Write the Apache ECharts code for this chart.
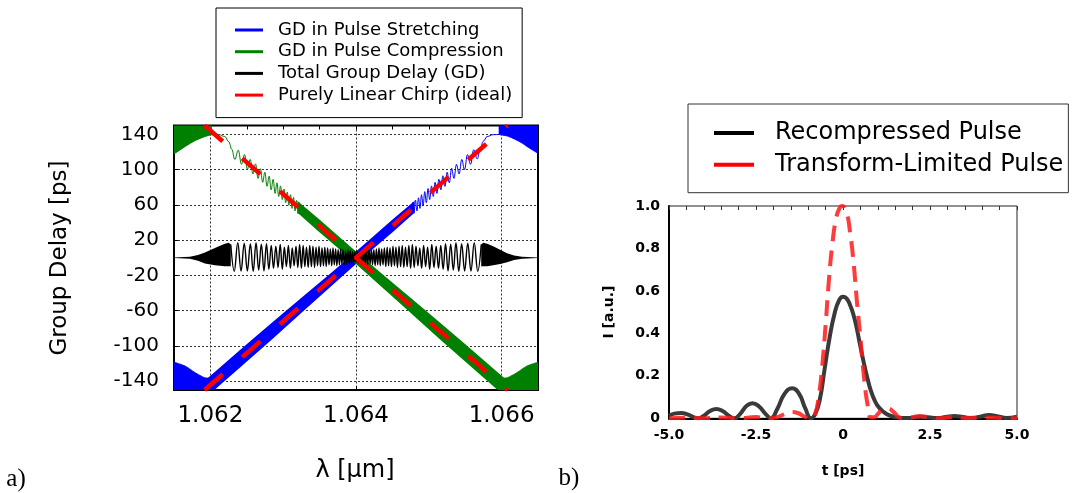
<!DOCTYPE html>
<html>
<head>
<meta charset="utf-8">
<style>
  html, body { margin: 0; padding: 0; background: #ffffff; }
  #chart { width: 1078px; height: 493px; }
</style>
<script src="https://cdn.jsdelivr.net/npm/echarts@6.0.0/dist/echarts.min.js"></script>
</head>
<body>
<div id="chart"></div>
<script>
// ---------- a) group delay versus wavelength ----------
const wavelengthTicks = [1.062, 1.064, 1.066];
const delayTicks = [-140, -100, -60, -20, 20, 60, 100, 140];

// stretcher GD: dense ripple envelope [lambda, upper, lower]
const stretchBand = [
  [1.061900, -141, -162], [1.062040, -131, -151], [1.062450, -101.5, -121.5],
  [1.062860, -72.5, -91.5], [1.063271, -44, -61], [1.063681, -15.5, -30.5],
  [1.064000, 7, -7], [1.064228, 23.5, 9.5], [1.064502, 43.5, 29], [1.064803, 64.5, 51]
];
// stretcher GD: resolved ripple towards long wavelengths
const stretchRipple = [
  [1.064776, 63], [1.064796, 50.5], [1.064817, 65.5], [1.064837, 53], [1.064858, 68],
  [1.064878, 56], [1.064900, 71.5], [1.064922, 59], [1.064944, 75], [1.064966, 62.5],
  [1.064989, 78.5], [1.065012, 66], [1.065037, 81.5], [1.065062, 69.5], [1.065086, 85.5],
  [1.065112, 73], [1.065138, 89], [1.065166, 77], [1.065193, 93], [1.065222, 81],
  [1.065252, 97], [1.065282, 85], [1.065313, 101.5], [1.065346, 90], [1.065380, 106],
  [1.065416, 95], [1.065453, 111.5], [1.065491, 100], [1.065531, 117], [1.065573, 106],
  [1.065617, 122.5], [1.065665, 112], [1.065706, 123], [1.065747, 132], [1.065802, 137.5],
  [1.065884, 139.6], [1.065960, 139.8]
];
// stretcher GD outside the chirped band (filled to the frame)
const stretchEdgeShort = [
  [1.061500, -118.5], [1.061655, -123], [1.061790, -130.4], [1.061890, -135],
  [1.061940, -136.5], [1.062000, -136.5]
];
const stretchEdgeLong = [
  [1.065960, 139.8], [1.066097, 137.6], [1.066275, 130.5], [1.066371, 125], [1.066500, 118.5]
];

// compressor GD
const compressBand = [
  [1.063197, 64.5, 51], [1.063498, 43.5, 29], [1.063772, 23.5, 9.5], [1.064000, 7, -7],
  [1.064319, -15.5, -30.5], [1.064729, -44, -61], [1.065140, -72.5, -91.5],
  [1.065550, -101.5, -121.5], [1.065960, -131, -151], [1.066100, -141, -162]
];
const compressRipple = [
  [1.062020, 139.5], [1.062116, 139.6], [1.062198, 137.5], [1.062253, 131.5], [1.062294, 123],
  [1.062335, 111.5], [1.062383, 122], [1.062427, 106], [1.062469, 117], [1.062509, 100.5],
  [1.062547, 111.5], [1.062584, 95], [1.062620, 106.5], [1.062654, 90], [1.062687, 101],
  [1.062718, 85.5], [1.062748, 97], [1.062778, 81], [1.062807, 92.5], [1.062834, 77],
  [1.062862, 89], [1.062888, 73], [1.062914, 85], [1.062938, 69.5], [1.062963, 81.5],
  [1.062988, 66], [1.063011, 78], [1.063034, 62.5], [1.063056, 74.5], [1.063078, 59.5],
  [1.063100, 71.5], [1.063122, 56], [1.063142, 68.5], [1.063163, 53], [1.063183, 65],
  [1.063204, 50], [1.063224, 62.5]
];
const compressEdgeShort = [
  [1.061500, 118], [1.061519, 118.8], [1.061655, 126.3], [1.061792, 133],
  [1.061929, 137.6], [1.062020, 139.5]
];
const compressEdgeLong = [
  [1.066000, -136.5], [1.066060, -136.5], [1.066110, -135], [1.066210, -130.4],
  [1.066345, -123], [1.066500, -118.5]
];

// total GD: spectral edges [lambda, upper, lower] and residual ripple
const totalEdgeShort = [
  [1.061500, 0.4, -0.4], [1.061719, 1, -1.2], [1.061829, 3, -3.5], [1.061925, 6, -6.5],
  [1.062062, 11, -8.5], [1.062198, 16, -9.5], [1.062253, 17, -9.5], [1.062280, 15, -9.5]
];
const totalEdgeLong = [
  [1.065720, 15, -9.5], [1.065747, 17, -9.5], [1.065802, 16, -9.5], [1.065884, 13, -8.5],
  [1.065980, 9, -7], [1.066075, 5, -5], [1.066171, 2.5, -2.5], [1.066280, 1, -1.2],
  [1.066500, 0.4, -0.4]
];
const totalRipple = [
  [1.062280, 15], [1.062328, -15.5], [1.062376, 17], [1.062421, -15], [1.062465, 16.5],
  [1.062508, -15], [1.062549, 16], [1.062588, -15.5], [1.062627, 17], [1.062663, -14],
  [1.062700, 15.5], [1.062736, -15], [1.062770, 16], [1.062803, -13], [1.062836, 14],
  [1.062867, -12], [1.062899, 13], [1.062929, -11], [1.062959, 15], [1.062988, -13],
  [1.063016, 12], [1.063044, -10], [1.063071, 14], [1.063099, -12], [1.063124, 11],
  [1.063150, -9], [1.063176, 13], [1.063201, -11], [1.063226, 15], [1.063250, -12],
  [1.063274, 14], [1.063297, -10], [1.063320, 12], [1.063343, -11], [1.063365, 14],
  [1.063387, -10], [1.063409, 13], [1.063431, -11], [1.063451, 12], [1.063472, -9],
  [1.063492, 13], [1.063513, -10], [1.063533, 11], [1.063553, -9], [1.063572, 12],
  [1.063591, -10], [1.063610, 11], [1.063629, -8], [1.063648, 10], [1.063666, -9],
  [1.063684, 11], [1.063702, -8], [1.063720, 10], [1.063737, -9], [1.063755, 9],
  [1.063773, -8], [1.063789, 10], [1.063806, -7], [1.063822, 9], [1.063839, -8],
  [1.063855, 8], [1.063871, -7], [1.063888, 9], [1.063904, -6], [1.063921, 8],
  [1.063937, -7], [1.063953, 7], [1.063970, -6], [1.063985, 7], [1.064000, -5],
  [1.064015, 7], [1.064030, -6], [1.064047, 7], [1.064063, -7], [1.064079, 8],
  [1.064096, -6], [1.064112, 9], [1.064129, -7], [1.064145, 8], [1.064161, -8],
  [1.064178, 9], [1.064194, -7], [1.064211, 10], [1.064227, -8], [1.064245, 9],
  [1.064263, -9], [1.064280, 10], [1.064298, -8], [1.064316, 11], [1.064334, -9],
  [1.064352, 10], [1.064371, -8], [1.064390, 11], [1.064409, -10], [1.064428, 12],
  [1.064447, -9], [1.064467, 11], [1.064487, -10], [1.064508, 13], [1.064528, -9],
  [1.064549, 12], [1.064569, -11], [1.064591, 13], [1.064613, -10], [1.064635, 14],
  [1.064657, -11], [1.064680, 12], [1.064703, -10], [1.064726, 14], [1.064750, -12],
  [1.064774, 15], [1.064799, -11], [1.064824, 13], [1.064850, -9], [1.064876, 11],
  [1.064901, -12], [1.064929, 14], [1.064956, -10], [1.064984, 12], [1.065012, -13],
  [1.065041, 15], [1.065071, -11], [1.065101, 13], [1.065133, -12], [1.065164, 14],
  [1.065197, -13], [1.065230, 16], [1.065264, -15], [1.065300, 15.5], [1.065337, -14],
  [1.065373, 17], [1.065412, -15.5], [1.065451, 16], [1.065492, -15], [1.065535, 16.5],
  [1.065579, -15], [1.065624, 17], [1.065672, -15.5], [1.065720, 15]
];

// ideal linear chirp (about 72 ps/nm)
const chirpRising = [[1.06192, -150], [1.06608, 150]];
const chirpFalling = [[1.06192, 150], [1.06608, -150]];

// ---------- b) recompressed pulse versus transform limit ----------
const recompressedPulse = [
  [-5.0, 0.012], [-4.85, 0.022], [-4.65, 0.025], [-4.45, 0.017], [-4.28, 0.004], [-4.17, 0.0],
  [-4.02, 0.01], [-3.82, 0.034], [-3.64, 0.044], [-3.46, 0.034], [-3.26, 0.01], [-3.12, 0.0],
  [-2.96, 0.02], [-2.76, 0.06], [-2.6, 0.071], [-2.42, 0.057], [-2.22, 0.02], [-2.07, 0.0],
  [-1.9, 0.04], [-1.68, 0.115], [-1.46, 0.142], [-1.26, 0.115], [-1.08, 0.045], [-0.92, 0.0],
  [-0.8, 0.02], [-0.67, 0.085], [-0.53, 0.23], [-0.38, 0.385], [-0.24, 0.495], [-0.11, 0.557],
  [0.0, 0.573], [0.1, 0.565], [0.2, 0.535], [0.3, 0.488], [0.4, 0.42], [0.5, 0.338],
  [0.6, 0.26], [0.7, 0.19], [0.8, 0.13], [0.9, 0.088], [1.0, 0.058], [1.15, 0.032],
  [1.3, 0.016], [1.5, 0.006], [1.75, 0.001], [2.0, 0.002], [2.2, 0.008], [2.45, 0.005],
  [2.7, 0.001], [2.95, 0.006], [3.2, 0.011], [3.45, 0.006], [3.7, 0.001], [3.95, 0.008],
  [4.2, 0.015], [4.45, 0.009], [4.7, 0.002], [5.0, 0.008]
];
const transformLimitedPulse = [
  [-5.0, 0.0], [-4.5, 0.003], [-4.0, 0.0], [-3.5, 0.004], [-3.0, 0.0], [-2.5, 0.006],
  [-2.2, 0.0], [-1.9, 0.005], [-1.7, 0.018], [-1.5, 0.03], [-1.3, 0.025], [-1.1, 0.008],
  [-0.9, 0.0], [-0.8, 0.02], [-0.7, 0.1], [-0.6, 0.24], [-0.5, 0.44], [-0.4, 0.66],
  [-0.3, 0.83], [-0.2, 0.94], [-0.1, 0.99], [-0.02, 1.0], [0.1, 0.97], [0.2, 0.88],
  [0.3, 0.74], [0.4, 0.55], [0.5, 0.38], [0.6, 0.2], [0.7, 0.07], [0.8, 0.005],
  [0.9, 0.005], [1.0, 0.02], [1.15, 0.042], [1.3, 0.045], [1.45, 0.03], [1.6, 0.006],
  [1.75, 0.0], [2.0, 0.006], [2.25, 0.01], [2.5, 0.004], [2.75, 0.0], [3.0, 0.004],
  [3.25, 0.006], [3.5, 0.002], [4.0, 0.003], [4.5, 0.002], [5.0, 0.0]
];

const SANS = 'DejaVu Sans';
const BLUE = '#0000ff', GREEN = '#008000', BLACK = '#000000', RED = '#ff0000';
const N_STRETCH = 'GD in Pulse Stretching';
const N_COMPRESS = 'GD in Pulse Compression';
const N_TOTAL = 'Total Group Delay (GD)';
const N_CHIRP = 'Purely Linear Chirp (ideal)';
const N_RECOMP = 'Recompressed Pulse';
const N_TL = 'Transform-Limited Pulse';

// filled envelope between an upper and a lower bound, clipped to the plot frame
function renderEnvelope(params, api) {
  if (params.dataIndexInside !== 0) return null;
  const upper = [], lower = [];
  for (let i = 0; i < params.dataInsideLength; i++) {
    const x = api.value(0, i);
    upper.push(api.coord([x, api.value(1, i)]));
    lower.push(api.coord([x, api.value(2, i)]));
  }
  const cs = params.coordSys;
  return {
    type: 'group',
    clipPath: { type: 'rect', shape: { x: cs.x, y: cs.y, width: cs.width, height: cs.height } },
    children: [{
      type: 'polygon',
      shape: { points: upper.concat(lower.reverse()) },
      style: { fill: api.visual('color') }
    }]
  };
}

function envelopeSeries(name, color, data) {
  return {
    type: 'custom', name: name, xAxisIndex: 0, yAxisIndex: 0,
    renderItem: renderEnvelope, data: data, encode: { x: 0, y: 1 },
    itemStyle: { color: color }, silent: true
  };
}
function traceSeries(name, color, data, width, extra) {
  return Object.assign({
    type: 'line', name: name, xAxisIndex: 0, yAxisIndex: 0, data: data,
    showSymbol: false, symbol: 'none', smooth: 0.4, smoothMonotone: 'x',
    lineStyle: { color: color, width: width }, itemStyle: { color: color }, silent: true
  }, extra || {});
}
function edgeSeries(name, color, data, origin) {
  return {
    type: 'line', name: name, xAxisIndex: 0, yAxisIndex: 0, data: data,
    showSymbol: false, symbol: 'none', smooth: 0.3,
    lineStyle: { color: color, width: 1 }, itemStyle: { color: color },
    areaStyle: { color: color, opacity: 1, origin: origin }, silent: true
  };
}

const dotted = { color: '#333', width: 1, type: [2, 2] };
const signed = v => String(v);

const option = {
  animation: false,
  backgroundColor: '#ffffff',
  grid: [
    { left: 174, top: 125.5, width: 364, height: 264.5, show: true,
      borderColor: '#000', borderWidth: 2, outerBoundsMode: 'none' },
    { left: 669, top: 206, width: 348, height: 212.3, show: true,
      borderColor: '#222', borderWidth: 1, outerBoundsMode: 'none' }
  ],
  legend: [
    {
      orient: 'vertical', left: 216, top: 8,
      data: [N_STRETCH, N_COMPRESS, N_TOTAL, N_CHIRP],
      icon: 'rect', itemWidth: 28, itemHeight: 3, itemGap: 3.7,
      padding: [13, 10, 13.5, 19], borderColor: '#000', borderWidth: 1,
      itemStyle: { borderWidth: 0 },
      textStyle: { fontFamily: SANS, fontSize: 18, color: '#000', padding: [0, 0, 0, 10] },
      selectedMode: false
    },
    {
      orient: 'vertical', left: 688, top: 104,
      data: [N_RECOMP, N_TL],
      icon: 'rect', itemWidth: 40, itemHeight: 4, itemGap: 7.7,
      padding: [17, 5, 16, 26], borderColor: '#333', borderWidth: 1,
      itemStyle: { borderWidth: 0 },
      textStyle: { fontFamily: SANS, fontSize: 24, color: '#000', padding: [0, 0, 0, 16] },
      selectedMode: false
    }
  ],
  xAxis: [
    {
      gridIndex: 0, type: 'value', min: 1.0615, max: 1.0665, position: 'bottom',
      axisLine: { show: false, onZero: false },
      axisTick: { show: true, inside: true, length: 4, customValues: wavelengthTicks, lineStyle: { color: '#000' } },
      axisLabel: { customValues: wavelengthTicks, formatter: v => v.toFixed(3),
        fontFamily: SANS, fontSize: 23, color: '#000', margin: 15 },
      splitLine: { show: true, lineStyle: dotted }
    },
    {
      gridIndex: 0, type: 'value', min: 1.0615, max: 1.0665, interval: 0.0005, position: 'top',
      axisLine: { show: false, onZero: false }, axisLabel: { show: false }, splitLine: { show: false },
      axisTick: { show: true, inside: true, length: 4, lineStyle: { color: '#000' } }
    },
    {
      gridIndex: 1, type: 'value', min: -5, max: 5, interval: 2.5, position: 'bottom',
      axisLine: { show: true, onZero: false, lineStyle: { color: '#000', width: 2 } },
      axisTick: { show: false },
      axisLabel: { formatter: v => (v === 0 ? '0' : v.toFixed(1)),
        fontFamily: SANS, fontWeight: 'bold', fontSize: 14, color: '#000', margin: 10.5 },
      splitLine: { show: false }
    },
    {
      gridIndex: 1, type: 'value', min: -5, max: 5, interval: 0.5, position: 'top',
      axisLine: { show: false, onZero: false }, axisLabel: { show: false }, splitLine: { show: false },
      axisTick: { show: true, inside: true, length: 4, lineStyle: { color: '#333' } }
    }
  ],
  yAxis: [
    {
      gridIndex: 0, type: 'value', min: -150, max: 150,
      axisLine: { show: false, onZero: false },
      axisTick: { show: true, inside: true, length: 4, customValues: delayTicks, lineStyle: { color: '#000' } },
      axisLabel: { customValues: delayTicks, formatter: signed,
        fontFamily: SANS, fontSize: 20, color: '#000', margin: 15 },
      splitLine: { show: true, lineStyle: dotted }
    },
    {
      gridIndex: 1, type: 'value', min: 0, max: 1, interval: 0.2,
      axisLine: { show: true, onZero: false, lineStyle: { color: '#000', width: 2 } },
      axisTick: { show: false },
      axisLabel: { formatter: v => (v === 0 ? '0' : v.toFixed(1)),
        fontFamily: SANS, fontWeight: 'bold', fontSize: 14, color: '#000', margin: 9 },
      splitLine: { show: false }
    }
  ],
  series: [
    envelopeSeries(N_STRETCH, BLUE, stretchBand),
    edgeSeries(N_STRETCH, BLUE, stretchEdgeShort, 'start'),
    edgeSeries(N_STRETCH, BLUE, stretchEdgeLong, 'end'),
    traceSeries(N_STRETCH, BLUE, stretchRipple, 1),

    envelopeSeries(N_COMPRESS, GREEN, compressBand),
    edgeSeries(N_COMPRESS, GREEN, compressEdgeShort, 'end'),
    edgeSeries(N_COMPRESS, GREEN, compressEdgeLong, 'start'),
    traceSeries(N_COMPRESS, GREEN, compressRipple, 1),

    envelopeSeries(N_TOTAL, BLACK, totalEdgeShort),
    envelopeSeries(N_TOTAL, BLACK, totalEdgeLong),
    traceSeries(N_TOTAL, BLACK, totalRipple, 1.4),

    traceSeries(N_CHIRP, RED, chirpRising, 4.5, { smooth: false,
      lineStyle: { color: RED, width: 4.5, type: [24, 26] } }),
    traceSeries(N_CHIRP, RED, chirpFalling, 4.5, { smooth: false,
      lineStyle: { color: RED, width: 4.5, type: [24, 26] } }),

    {
      type: 'line', name: N_RECOMP, xAxisIndex: 2, yAxisIndex: 1, data: recompressedPulse,
      showSymbol: false, symbol: 'none', smooth: 0.5,
      lineStyle: { color: '#3a3a3a', width: 4 }, itemStyle: { color: '#000' }, silent: true
    },
    {
      type: 'line', name: N_TL, xAxisIndex: 2, yAxisIndex: 1, data: transformLimitedPulse,
      showSymbol: false, symbol: 'none', smooth: 0.5,
      lineStyle: { color: '#ff1a1a', width: 4, type: [16, 9], opacity: 0.85 },
      itemStyle: { color: RED }, silent: true
    }
  ],
  graphic: [
    { type: 'text', x: 60, y: 258, rotation: Math.PI / 2,
      style: { text: 'Group Delay [ps]', fontFamily: SANS, fontSize: 23, fill: '#000',
        align: 'center', verticalAlign: 'middle' } },
    { type: 'text', x: 355, y: 471,
      style: { text: 'λ [μm]', fontFamily: SANS, fontSize: 24, fill: '#000',
        align: 'center', verticalAlign: 'middle' } },
    { type: 'text', x: 16, y: 479,
      style: { text: 'a)', fontFamily: 'Liberation Serif', fontSize: 25, fill: '#000',
        align: 'center', verticalAlign: 'middle' } },
    { type: 'text', x: 569, y: 478,
      style: { text: 'b)', fontFamily: 'Liberation Serif', fontSize: 25, fill: '#000',
        align: 'center', verticalAlign: 'middle' } },
    { type: 'text', x: 843, y: 471,
      style: { text: 't [ps]', fontFamily: SANS, fontWeight: 'bold', fontSize: 14, fill: '#000',
        align: 'center', verticalAlign: 'middle' } },
    { type: 'text', x: 609, y: 312, rotation: Math.PI / 2,
      style: { text: 'I [a.u.]', fontFamily: SANS, fontWeight: 'bold', fontSize: 14, fill: '#000',
        align: 'center', verticalAlign: 'middle' } }
  ]
};

const chart = echarts.init(document.getElementById('chart'), null, { renderer: 'canvas' });
chart.setOption(option);
</script>
</body>
</html>
